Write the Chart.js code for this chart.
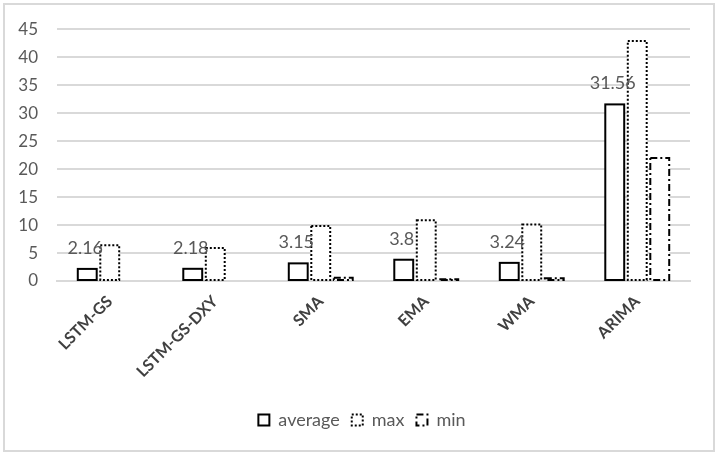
<!DOCTYPE html>
<html>
<head>
<meta charset="utf-8">
<script src="https://cdn.jsdelivr.net/npm/chart.js@4"></script>
<style>
  html, body { margin: 0; padding: 0; background: #fff; }
  #wrap { width: 719px; height: 455px; position: relative; }
</style>
</head>
<body>
<div id="wrap"><canvas id="chart"></canvas></div>
<script>
'use strict';

const models = ['LSTM-GS', 'LSTM-GS-DXY', 'SMA', 'EMA', 'WMA', 'ARIMA'];
const averageValues = [2.16, 2.18, 3.15, 3.8, 3.24, 31.56];
const maxValues = [6.4, 5.9, 9.85, 10.85, 10.1, 42.9];
const minValues = [0, 0, 0.6, 0.3, 0.5, 22.0];
const yTicks = [0, 5, 10, 15, 20, 25, 30, 35, 40, 45];

const FONT = 'Lato, "Open Sans", sans-serif';
const TEXT = '#595959';
const GRID = '#d9d9d9';

// chart.js bars can't do dashed borders, so stroke them ourselves
const dashedBars = {
	id: 'dashedBars',
	afterDatasetsDraw(chart) {
		const ctx = chart.ctx;
		chart.data.datasets.forEach((ds, i) => {
			const meta = chart.getDatasetMeta(i);
			meta.data.forEach((bar) => {
				const p = bar.getProps(['x', 'y', 'base', 'width'], true);
				if (Math.abs(p.base - p.y) < 0.5) return;
				const left = p.x - p.width / 2;
				ctx.save();
				ctx.strokeStyle = '#000';
				ctx.lineWidth = 2;
				ctx.setLineDash(ds.dash);
				ctx.strokeRect(left, p.y, p.width, p.base - p.y);
				ctx.restore();
			});
		});
	},
};

// value labels above the average bars
const averageLabels = {
	id: 'averageLabels',
	afterDatasetsDraw(chart) {
		const ctx = chart.ctx;
		const meta = chart.getDatasetMeta(0);
		ctx.save();
		ctx.font = '18px ' + FONT;
		ctx.fillStyle = TEXT;
		ctx.textAlign = 'center';
		ctx.textBaseline = 'middle';
		meta.data.forEach((bar, idx) => {
			ctx.fillText(String(averageValues[idx]), bar.x - 2, bar.y - 21);
		});
		ctx.restore();
	},
};

const frame = {
	id: 'frame',
	beforeDraw(chart) {
		const ctx = chart.ctx;
		ctx.save();
		ctx.fillStyle = '#fff';
		ctx.fillRect(0, 0, chart.width, chart.height);
		ctx.strokeStyle = GRID;
		ctx.lineWidth = 2;
		ctx.strokeRect(4, 4, 710, 447);
		ctx.restore();
	},
	// legend sits centred on the whole picture, not left of the right padding
	afterLayout(chart) {
		chart.legend.left += 17;
		chart.legend.right += 17;
	},
};

function makeDataset(label, data, dash) {
	return {
		label: label,
		data: data,
		dash: dash,
		backgroundColor: 'rgba(255, 255, 255, 1)',
		borderWidth: 0,
		categoryPercentage: 0.64,
		barPercentage: 0.84,
	};
}

function buildLegendLabels(chart) {
	return chart.data.datasets.map((ds, i) => ({
		text: ds.label,
		fillStyle: '#fff',
		strokeStyle: '#000',
		lineWidth: 2,
		lineDash: ds.dash,
		fontColor: TEXT,
		datasetIndex: i,
	}));
}

function makeChart() {
	const ctx = document.querySelector('#chart').getContext('2d');
	return new Chart(ctx, {
		type: 'bar',
		data: {
			labels: models,
			datasets: [
				makeDataset('average', averageValues, []),
				makeDataset('max', maxValues, [2, 2]),
				makeDataset('min', minValues, [7, 3, 2, 3]),
			],
		},
		options: {
			responsive: true,
			maintainAspectRatio: false,
			animation: false,
			layout: { padding: { left: 0, right: 29, top: 28, bottom: 16 } },
			plugins: {
				tooltip: { enabled: false },
				legend: {
					position: 'bottom',
					labels: {
						generateLabels: buildLegendLabels,
						boxWidth: 11,
						boxHeight: 11,
						padding: 12,
						color: TEXT,
						font: { family: FONT, size: 18 },
					},
				},
			},
			scales: {
				x: {
					grid: { display: false },
					border: { color: GRID, width: 2 },
					ticks: {
						color: '#404040',
						maxRotation: 45,
						minRotation: 45,
						font: { family: FONT, size: 16, weight: 'bold' },
					},
					afterFit(scale) { scale.height = 118; },
				},
				y: {
					min: 0,
					max: 45,
					afterBuildTicks(scale) {
						scale.ticks = yTicks.map((v) => ({ value: v }));
					},
					grid: { color: GRID, lineWidth: 2, drawTicks: false },
					border: { display: false },
					ticks: {
						color: TEXT,
						padding: 19,
						font: { family: FONT, size: 17 },
					},
					afterFit(scale) { scale.width = 57; },
				},
			},
		},
		plugins: [frame, dashedBars, averageLabels],
	});
}

makeChart();
</script>
</body>
</html>
